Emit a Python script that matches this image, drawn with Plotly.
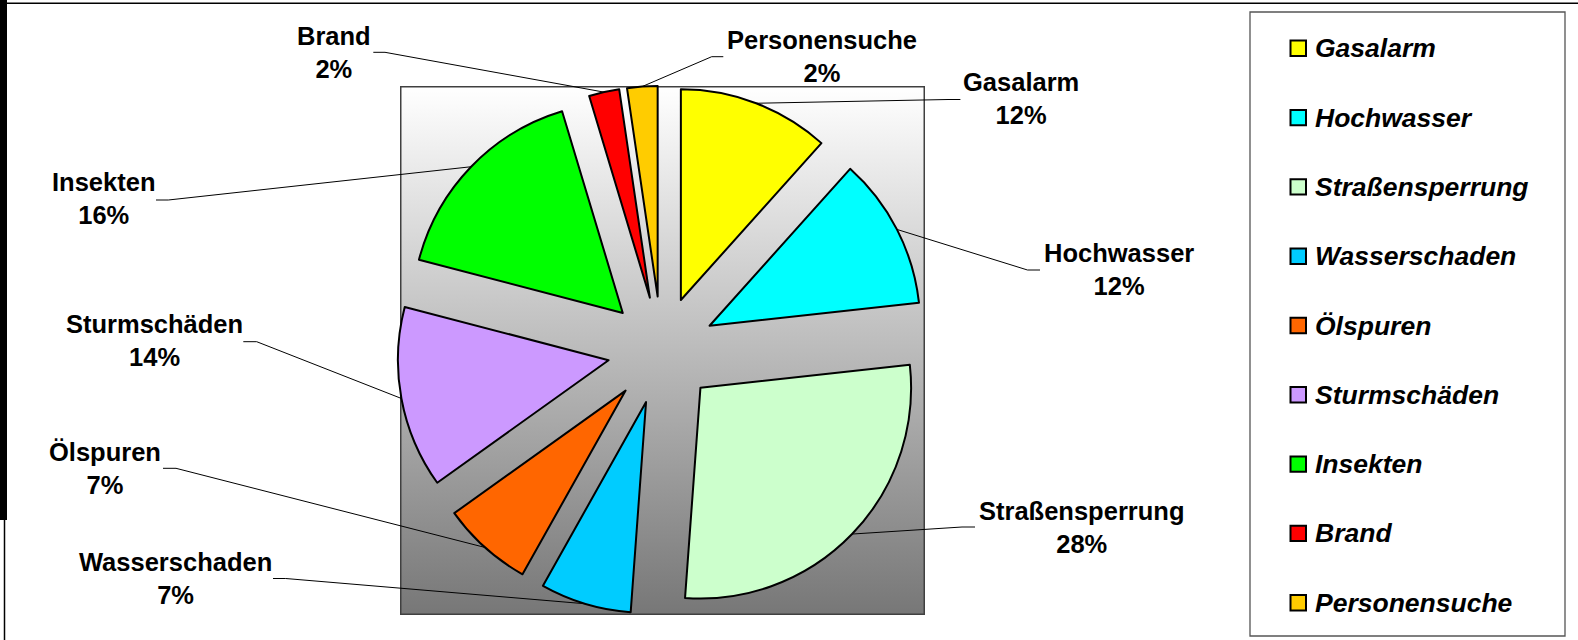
import base64
import math
import plotly.graph_objects as go

# ---------------- data ----------------
categories = ["Gasalarm", "Hochwasser", "Straßensperrung", "Wasserschaden", "Ölspuren",
              "Sturmschäden", "Insekten", "Brand", "Personensuche"]
counts = [5, 5, 12, 3, 3, 6, 7, 1, 1]
colors = ["#FFFF00", "#00FFFF", "#CCFFCC", "#00CCFF", "#FF6600",
          "#CC99FF", "#00FF00", "#FF0000", "#FFCC00"]

# ---------------- layout / style (pixels) ----------------
W, H = 1578, 640
PULL = 0.256
CX_PX, CY_PX, HALF_PX = 661.6, 350.4, 264.6
dom_x = [(CX_PX - 330) / W, (CX_PX + 330) / W]
dom_y = [(H - CY_PX - HALF_PX) / H, (H - CY_PX + HALF_PX) / H]

# label centre (x, y) and leader line end / elbow x positions (pixels)
label_cx = [1021.4, 1118.6, 1081.0, 175.2, 105.4, 154.0, 103.8, 333.5, 822.2]
label_cy = [98.3, 269.7, 527.0, 578.7, 468.3, 340.2, 198.8, 52.2, 56.8]
line_end_x = [960.4, 1040.0, 975.0, 273.0, 163.0, 243.3, 156.0, 373.3, 723.3]
line_elbow_x = [948.0, 1027.5, 962.0, 285.7, 176.0, 256.7, 168.3, 385.0, 711.7]
line_y = [99.5, 270.0, 527.0, 578.5, 468.3, 341.7, 200.0, 52.3, 56.7]

LABEL_FONT = dict(family="Liberation Sans, Arial, sans-serif", size=25.5, color="black", weight="bold")
LEGEND_FONT = dict(family="Liberation Sans, Arial, sans-serif", size=26.5, color="black",
                   weight="bold", style="italic")


def px(x):
    return x / W


def py(y):
    return 1 - y / H


total = sum(counts)
pct = [round(100 * v / total) for v in counts]

fig = go.Figure()
fig.add_trace(go.Pie(
    labels=categories, values=counts, sort=False, direction="clockwise", rotation=0,
    pull=[PULL] * len(counts),
    marker=dict(colors=colors, line=dict(color="black", width=2)),
    textinfo="none", hoverinfo="label+percent", showlegend=False,
    domain=dict(x=dom_x, y=dom_y),
))

# pie geometry as plotly computes it
cx = W * (dom_x[0] + dom_x[1]) / 2
cy = H * (1 - (dom_y[0] + dom_y[1]) / 2)
r = min(W * (dom_x[1] - dom_x[0]), H * (dom_y[1] - dom_y[0])) / 2 / (1 + PULL)

shapes = []
annotations = []

# gradient plot background (as svg image)
bx0, by0, bx1, by1 = 400, 86, 925, 615
bw, bh = bx1 - bx0, by1 - by0
svg = (f'<svg xmlns="http://www.w3.org/2000/svg" width="{bw}" height="{bh}" viewBox="0 0 {bw} {bh}" '
       f'preserveAspectRatio="none"><defs><linearGradient id="g" x1="0" y1="0" x2="0" y2="1">'
       f'<stop offset="0" stop-color="#ffffff"/><stop offset="1" stop-color="#777777"/></linearGradient></defs>'
       f'<rect x="0.75" y="0.75" width="{bw - 1.5}" height="{bh - 1.5}" fill="url(#g)" stroke="#404040" '
       f'stroke-width="1.5"/></svg>')
src = "data:image/svg+xml;base64," + base64.b64encode(svg.encode()).decode()
images = [dict(source=src, xref="paper", yref="paper", x=px(bx0), y=py(by0),
               sizex=bw / W, sizey=bh / H, sizing="stretch", xanchor="left", yanchor="top",
               layer="below")]

# data labels and leader lines
cum = 0
for i, (name, v) in enumerate(zip(categories, counts)):
    mid = (cum + v / 2) / total * 2 * math.pi
    cum += v
    ax = cx + r * (1 + PULL) * math.sin(mid)
    ay = cy - r * (1 + PULL) * math.cos(mid)
    path = (f"M {px(ax)} {py(ay)} L {px(line_elbow_x[i])} {py(line_y[i])} "
            f"L {px(line_end_x[i])} {py(line_y[i])}")
    shapes.append(dict(type="path", xref="paper", yref="paper", path=path,
                       line=dict(color="black", width=1)))
    annotations.append(dict(xref="paper", yref="paper", x=px(label_cx[i]), y=py(label_cy[i]),
                            xanchor="center", yanchor="middle", showarrow=False,
                            text=f"{name}<br>{pct[i]}%", font=LABEL_FONT, align="center"))

# legend box
lx0, ly0, lx1, ly1 = 1250, 12, 1565, 636
shapes.append(dict(type="rect", xref="paper", yref="paper", x0=px(lx0), x1=px(lx1),
                   y0=py(ly0), y1=py(ly1), line=dict(color="#555555", width=1.3),
                   fillcolor="white", layer="below"))
item0, step = 48.3, 69.3
for i, name in enumerate(categories):
    yc = item0 + i * step
    shapes.append(dict(type="rect", xref="paper", yref="paper", x0=px(1290.5), x1=px(1306),
                       y0=py(yc - 7.7), y1=py(yc + 7.7), line=dict(color="black", width=2),
                       fillcolor=colors[i]))
    annotations.append(dict(xref="paper", yref="paper", x=px(1313), y=py(yc),
                            xanchor="left", yanchor="middle", showarrow=False,
                            text=name, font=LEGEND_FONT))

# frame bits at the left / top edge
shapes.append(dict(type="rect", xref="paper", yref="paper", x0=0, x1=px(7), y0=py(520), y1=1,
                   line=dict(width=0), fillcolor="black"))
shapes.append(dict(type="line", xref="paper", yref="paper", x0=px(4.5), x1=px(4.5), y0=py(520), y1=0,
                   line=dict(color="black", width=1.5)))
shapes.append(dict(type="line", xref="paper", yref="paper", x0=0, x1=1, y0=py(3.3), y1=py(3.3),
                   line=dict(color="black", width=1.5)))

fig.update_layout(
    width=W, height=H, margin=dict(l=0, r=0, t=0, b=0),
    paper_bgcolor="white", plot_bgcolor="white",
    shapes=shapes, annotations=annotations, images=images, showlegend=False,
)

fig.write_html(
    "out.html",
    config={"displayModeBar": False},
    post_script="document.body.style.margin='0';document.body.style.overflow='hidden';"
                "document.documentElement.style.overflow='hidden';",
)
